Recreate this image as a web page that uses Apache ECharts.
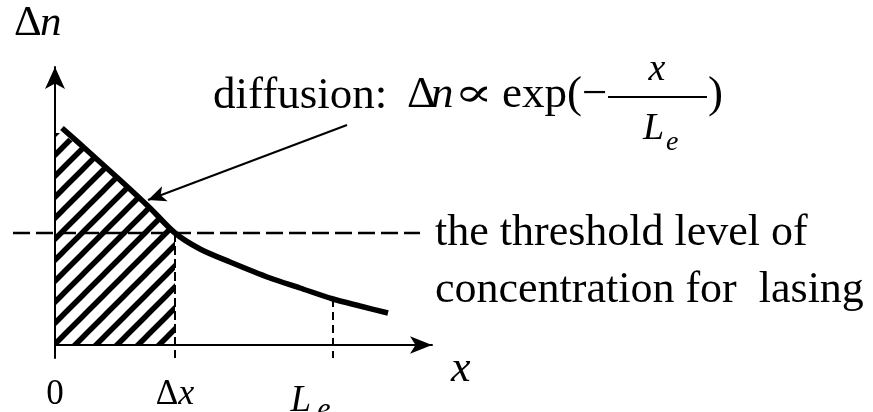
<!DOCTYPE html>
<html>
<head>
<meta charset="utf-8">
<script src="https://cdn.jsdelivr.net/npm/echarts@6/dist/echarts.min.js"></script>
<style>
  html, body { margin: 0; padding: 0; background: #fff; }
  #chart { width: 873px; height: 412px; }
</style>
</head>
<body>
<div id="chart"></div>
<script>
// Carrier concentration Δn versus depth x (arbitrary drawing units, origin at 0)
const curveX = [7, 35, 65, 95, 120, 145, 175, 215, 245, 278, 305, 333];
const curveY = [217, 192, 165, 137, 112, 96, 83, 67, 57, 46, 39, 32];

// shaded region under the curve, from 0 up to Δx
const hatchX = [0, 7, 35, 65, 95, 120];
const hatchY = [212, 212, 190, 163, 135, 110];

// threshold level and the two marked depths
const thresholdLevel = 112;
const thresholdSpan = [-42, 365];
const deltaX = 120;
const diffusionLength = 278;
const levelAtLength = 46;
const belowAxis = -13;

// tick positions and their labels
const tickValues = [0, 120, 278];
const tickLabels = ['0', 'Δx', 'Le'];

// pointer from the formula to the curve
const pointerFrom = [292, 220];
const pointerTo = [93, 145];

const SERIF = '"Liberation Serif", "DejaVu Serif", serif';

function zip(a, b) { return a.map((v, i) => [v, b[i]]); }

function stripePattern() {
  const P = 21;
  const c = document.createElement('canvas');
  c.width = P; c.height = P;
  const g = c.getContext('2d');
  g.strokeStyle = '#000';
  g.lineWidth = 5.5;
  g.beginPath();
  for (const k of [-P, 0, P]) {
    g.moveTo(-2, P + k + 2);
    g.lineTo(P + 2, k - 2);
  }
  g.stroke();
  return c;
}

const chart = echarts.init(document.getElementById('chart'));

function fmtTick(v) {
  const t = tickLabels[tickValues.indexOf(v)];
  if (t === 'Δx') return '{r|Δ}{i|x}';
  if (t === 'Le') return '{L|L}{e|e}';
  return '{r|' + t + '}';
}

const dash = (w, pattern) => ({ color: '#000', width: w, type: pattern });

chart.setOption({
  animation: false,
  backgroundColor: '#fff',
  grid: { left: 55, right: 441, top: 67, bottom: 54, containLabel: false, outerBoundsMode: 'none' },
  xAxis: {
    type: 'value', min: 0, max: 377,
    splitLine: { show: false },
    axisTick: { show: false },
    axisLine: {
      onZero: true,
      symbol: ['none', 'arrow'], symbolSize: [13, 22],
      lineStyle: { color: '#000', width: 2 }
    },
    axisLabel: {
      customValues: tickValues,
      margin: 19,
      formatter: fmtTick,
      color: '#000',
      rich: {
        r: { fontFamily: SERIF, fontSize: 35, color: '#000' },
        i: { fontFamily: SERIF, fontSize: 36, fontStyle: 'italic', color: '#000' },
        L: { fontFamily: SERIF, fontSize: 37, fontStyle: 'italic', color: '#000' },
        e: { fontFamily: SERIF, fontSize: 30, fontStyle: 'italic', color: '#000', padding: [18, 45, 0, 6] }
      }
    }
  },
  yAxis: {
    type: 'value', min: belowAxis, max: 278,
    splitLine: { show: false },
    axisTick: { show: false },
    axisLabel: { show: false },
    axisLine: {
      show: true,
      symbol: ['none', 'arrow'], symbolSize: [15, 22],
      lineStyle: { color: '#000', width: 2 }
    }
  },
  series: [
    {
      name: 'hatch', type: 'line', data: zip(hatchX, hatchY),
      showSymbol: false, symbol: 'none', z: 1,
      lineStyle: { width: 0 },
      areaStyle: { color: { image: stripePattern(), repeat: 'repeat' }, opacity: 1 }
    },
    {
      name: 'threshold', type: 'custom', clip: false, z: 2,
      data: [[thresholdSpan[0], thresholdSpan[1], thresholdLevel]],
      encode: { x: [0, 1], y: 2 },
      renderItem: function (params, api) {
        const a = api.coord([api.value(0), api.value(2)]);
        const b = api.coord([api.value(1), api.value(2)]);
        return {
          type: 'line',
          shape: { x1: a[0], y1: a[1], x2: b[0], y2: b[1] },
          style: { stroke: '#000', lineWidth: 2.5, lineDash: [17, 6], fill: null }
        };
      }
    },
    {
      name: 'deltaX', type: 'line', clip: false, symbol: 'none', z: 2,
      data: [[deltaX, thresholdLevel], [deltaX, belowAxis]],
      lineStyle: dash(2, [9, 4])
    },
    {
      name: 'length', type: 'line', clip: false, symbol: 'none', z: 2,
      data: [[diffusionLength, levelAtLength], [diffusionLength, belowAxis]],
      lineStyle: dash(2, [8, 5])
    },
    {
      name: 'concentration', type: 'line', data: zip(curveX, curveY),
      symbol: 'none', smooth: 0.3, z: 3,
      lineStyle: { color: '#000', width: 5.5 },
      markLine: {
        silent: true, animation: false,
        symbol: ['none', 'arrow'], symbolSize: [12, 18],
        label: { show: false },
        lineStyle: { color: '#000', width: 2, type: 'solid' },
        data: [[{ coord: pointerFrom }, { coord: pointerTo }]]
      }
    }
  ],
  graphic: [
    // axis names
    { type: 'text', x: 14, y: 24, style: { text: 'Δ', font: '43px ' + SERIF, fill: '#000', verticalAlign: 'middle' } },
    { type: 'text', x: 40, y: 24, style: { text: 'n', font: 'italic 43px ' + SERIF, fill: '#000', verticalAlign: 'middle' } },
    { type: 'text', x: 451, y: 369, style: { text: 'x', font: 'italic 44px ' + SERIF, fill: '#000', verticalAlign: 'middle' } },
    // formula
    { type: 'text', x: 213, y: 96, style: { text: 'diffusion:', font: '45px ' + SERIF, fill: '#000', verticalAlign: 'middle' } },
    { type: 'text', x: 407, y: 95, style: { text: 'Δ', font: '45px ' + SERIF, fill: '#000', verticalAlign: 'middle' } },
    { type: 'text', x: 431, y: 95, style: { text: 'n', font: 'italic 45px ' + SERIF, fill: '#000', verticalAlign: 'middle' } },
    { type: 'text', x: 454, y: 96, scaleX: 1.45, style: { text: '∝', font: '40px "DejaVu Serif", serif', fill: '#000', verticalAlign: 'middle' } },
    { type: 'text', x: 502, y: 95, style: { text: 'exp(−', font: '45px ' + SERIF, fill: '#000', verticalAlign: 'middle' } },
    { type: 'text', x: 657, y: 70, style: { text: 'x', font: 'italic 38px ' + SERIF, fill: '#000', align: 'center', verticalAlign: 'middle' } },
    { type: 'line', shape: { x1: 608, y1: 97, x2: 707, y2: 97 }, style: { stroke: '#000', lineWidth: 2 } },
    { type: 'text', x: 643, y: 129, style: { text: 'L', font: 'italic 38px ' + SERIF, fill: '#000', verticalAlign: 'middle' } },
    { type: 'text', x: 666, y: 143, style: { text: 'e', font: 'italic 28px ' + SERIF, fill: '#000', verticalAlign: 'middle' } },
    { type: 'text', x: 708, y: 95, style: { text: ')', font: '45px ' + SERIF, fill: '#000', verticalAlign: 'middle' } },
    // threshold caption
    { type: 'text', x: 435, y: 233, style: { text: 'the threshold level of', font: '44px ' + SERIF, fill: '#000', verticalAlign: 'middle' } },
    { type: 'text', x: 435, y: 290, style: { text: 'concentration for  lasing', font: '44px ' + SERIF, fill: '#000', verticalAlign: 'middle' } }
  ]
});
</script>
</body>
</html>
